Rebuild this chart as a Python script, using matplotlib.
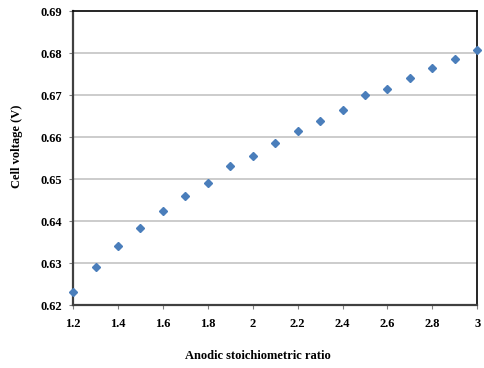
import numpy as np
import matplotlib
matplotlib.use('Agg')
import matplotlib.pyplot as plt

# anodic stoichiometric ratio vs cell voltage
ratio = [1.2, 1.3, 1.4, 1.5, 1.6, 1.7, 1.8, 1.9, 2.0, 2.1,
         2.2, 2.3, 2.4, 2.5, 2.6, 2.7, 2.8, 2.9, 3.0]
voltage = [0.6230, 0.6291, 0.6340, 0.6383, 0.6424, 0.6460, 0.6491, 0.6530, 0.6556, 0.6586,
           0.6614, 0.6639, 0.6664, 0.6700, 0.6715, 0.6740, 0.6764, 0.6786, 0.6808]

xticks = [1.2, 1.4, 1.6, 1.8, 2.0, 2.2, 2.4, 2.6, 2.8, 3.0]
xlabels = ['1.2', '1.4', '1.6', '1.8', '2', '2.2', '2.4', '2.6', '2.8', '3']
yticks = [0.62, 0.63, 0.64, 0.65, 0.66, 0.67, 0.68, 0.69]

plt.rcParams['font.family'] = ['Liberation Serif', 'DejaVu Serif']

fig = plt.figure(figsize=(4.84, 3.68), dpi=100)
ax = fig.add_axes([0.151, 0.171, 0.835, 0.799])

for y in yticks[1:-1]:
    ax.axhline(y, color='#c8c8c8', lw=1.3, zorder=0)

ax.plot(ratio, voltage, 'D', color='#4a7ebb', markersize=4.2, clip_on=False, zorder=3)

ax.set_xlim(1.2, 3.0)
ax.set_ylim(0.62, 0.69)
ax.set_xticks(xticks)
ax.set_xticklabels(xlabels, fontsize=9, fontweight='bold')
ax.set_yticks(yticks)
ax.set_yticklabels(['%.2f' % v for v in yticks], fontsize=9, fontweight='bold')
ax.tick_params(direction='out', length=3, width=0.8, color='#808080', pad=5)
ax.tick_params(axis='x', pad=6)

for s in ax.spines.values():
    s.set_linewidth(1.2)
    s.set_color('black')
ax.spines['left'].set_color('#404040')
ax.spines['left'].set_linewidth(1.6)
ax.spines['bottom'].set_color('#404040')
ax.spines['bottom'].set_linewidth(1.6)

ax.set_xlabel('Anodic stoichiometric ratio', fontsize=9, fontweight='bold')
ax.set_ylabel('Cell voltage (V)', fontsize=9, fontweight='bold')
ax.xaxis.set_label_coords(0.457, -0.153)
ax.yaxis.set_label_coords(-0.125, 0.54)

fig.savefig('out.png', dpi=100)
